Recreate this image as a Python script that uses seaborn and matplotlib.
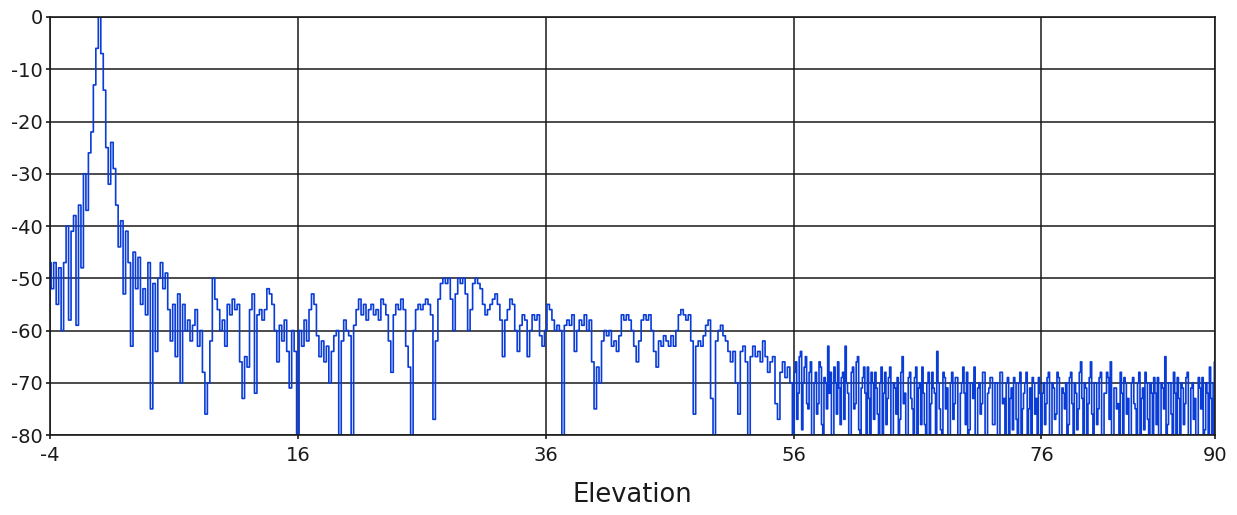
import numpy as np
import pandas as pd
import seaborn as sns
import matplotlib.pyplot as plt

#
# DATA
#

# -4 .. 55.8, 0.2 deg step
seg_a = [-47, -52, -47, -55, -48, -60, -47, -40, -58, -41,
         -38, -59, -36, -48, -30, -37, -26, -22, -13, -6,
         0, -7, -14, -25, -32, -24, -29, -36, -44, -39,
         -53, -41, -47, -63, -45, -52, -46, -55, -52, -57,
         -47, -75, -51, -64, -50, -47, -52, -49, -56, -62,
         -55, -65, -53, -70, -55, -60, -58, -62, -59, -56,
         -63, -60, -68, -76, -70, -62, -50, -54, -56, -60,
         -58, -63, -55, -57, -54, -56, -55, -66, -73, -65,
         -67, -56, -53, -72, -57, -56, -58, -56, -52, -53,
         -55, -60, -66, -59, -62, -58, -64, -71, -60, -64]

seg_b = [-80, -60, -63, -58, -62, -56, -53, -55, -61, -65,
         -62, -66, -63, -70, -64, -61, -60, -80, -62, -58,
         -60, -61, -80, -59, -56, -54, -57, -55, -58, -56,
         -55, -57, -56, -58, -54, -55, -57, -62, -68, -57,
         -55, -56, -54, -56, -63, -67, -80, -60, -56, -55,
         -56, -55, -54, -55, -57, -77, -62, -54, -51, -50,
         -51, -50, -54, -60, -53, -50, -51, -50, -53, -60,
         -56, -51, -50, -51, -52, -55, -57, -56, -55, -54,
         -53, -55, -58, -65, -58, -56, -54, -55, -60, -64,
         -59, -57, -58, -65, -60, -57, -58, -57, -61, -63]

seg_c = [-60, -55, -56, -58, -60, -59, -60, -80, -59, -58,
         -59, -57, -64, -60, -58, -59, -57, -60, -58, -66,
         -75, -67, -70, -62, -60, -61, -60, -63, -62, -64,
         -61, -57, -58, -57, -58, -60, -63, -66, -62, -58,
         -57, -58, -57, -60, -64, -67, -62, -63, -61, -62,
         -63, -61, -63, -60, -57, -56, -57, -58, -57, -62,
         -76, -63, -62, -63, -61, -59, -58, -73, -80, -62,
         -60, -59, -61, -62, -64, -66, -64, -70, -76, -64,
         -63, -66, -80, -65, -63, -65, -64, -66, -62, -65,
         -68, -66, -65, -74, -77, -68, -66, -69, -67, -70]

# 56 .. 90, 0.1 deg step (noise floor)
seg_d = [-80, -68, -66, -77, -72, -65, -64, -79, -70, -67, -65, -74, -75, -68, -66, -80, -80, -70, -68, -76,
         -74, -66, -67, -78, -80, -69, -70, -75, -63, -72, -68, -80, -80, -67, -70, -76, -66, -71, -78, -69,
         -68, -77, -63, -70, -72, -80, -80, -68, -67, -75, -74, -66, -65, -79, -80, -71, -69, -67, -72, -80,
         -67, -73, -80, -68, -70, -77, -68, -71, -76, -80, -70, -67, -80, -72, -68, -78, -73, -69, -67, -80,
         -80, -70, -71, -76, -69, -80, -77, -68, -65, -74, -72, -80, -80, -69, -68, -73, -75, -80, -69, -67,
         -80, -71, -70, -78, -67, -72, -78, -80, -70, -68, -80, -74, -68, -71, -72, -80, -64, -70, -75, -79,
         -80, -68, -69, -75, -71, -80, -80, -70, -68, -77, -74, -69, -69, -80, -80, -72, -70, -67, -72, -78,
         -68, -80, -79, -70, -70, -73, -67, -80, -80, -71, -70, -76, -74, -68, -68, -80, -80, -72, -71, -69,
         -69, -78, -78, -70, -70, -80, -80, -68, -68, -74, -73, -80, -70, -69, -80, -73, -71, -79, -69, -70,
         -77, -80, -70, -68, -80, -75, -72, -70, -68, -80, -75, -71, -80, -69, -70, -76, -73, -80, -69, -72]

seg_e = [-80, -72, -70, -78, -74, -69, -68, -80, -80, -70, -71, -77, -76, -68, -69, -80, -80, -71, -72, -75,
         -70, -80, -78, -69, -68, -74, -80, -70, -72, -79, -75, -68, -66, -73, -80, -70, -71, -80, -74, -69,
         -66, -76, -80, -70, -70, -78, -75, -69, -68, -80, -80, -72, -72, -68, -69, -77, -66, -80, -80, -71,
         -71, -75, -74, -80, -68, -72, -80, -69, -70, -76, -73, -80, -80, -70, -69, -74, -75, -80, -70, -68,
         -80, -73, -71, -79, -68, -70, -77, -80, -70, -72, -80, -69, -72, -78, -69, -80, -80, -70, -71, -75,
         -65, -80, -78, -70, -70, -76, -80, -68, -72, -80, -69, -73, -80, -70, -71, -78, -74, -69, -68, -80,
         -80, -71, -70, -77, -73, -80, -80, -69, -71, -75, -69, -80, -79, -70, -72, -80, -67, -73, -80, -70,
         -66]

segments = [seg_a, seg_b, seg_c, seg_d, seg_e]
seg_starts = [-4, 16, 36, 56, 76]
seg_steps = [0.2, 0.2, 0.2, 0.1, 0.1]
x_ticks = [-4, 16, 36, 56, 76, 90]
y_ticks = [0, -10, -20, -30, -40, -50, -60, -70, -80]


#
# PLOT
#

def build_frame():
    parts = []
    for start, step, vals in zip(seg_starts, seg_steps, segments):
        xs = start + step * np.arange(len(vals))
        parts.append(pd.DataFrame({"elev": xs, "level": vals}))
    return pd.concat(parts, ignore_index=True)


if __name__ == "__main__":

    sns.set_style("white")
    plt.rcParams["font.family"] = ["DejaVu Sans"]
    plt.rcParams["axes.unicode_minus"] = False

    df = build_frame()

    f = plt.figure(figsize=(12.37, 5.15), dpi=100)
    ax = f.add_axes([0.0404, 0.1553, 0.9418, 0.8117])

    sns.lineplot(x="elev", y="level", data=df, ax=ax, color="#0a3cd8",
                 linewidth=1.2, drawstyle="steps-mid", estimator=None)

    ax.set_xlim(-4, 90)
    ax.set_ylim(-80, 0)
    ax.set_xticks(x_ticks)
    ax.set_yticks(y_ticks)
    ax.set_xlabel("Elevation", fontsize=18.5, color="#1a1a1a", labelpad=12)
    ax.set_ylabel("")
    ax.tick_params(labelsize=14, length=3, width=1.2, colors="#1a1a1a",
                   left=True, bottom=True)
    ax.tick_params(axis="x", pad=5)
    ax.tick_params(axis="y", pad=2)
    ax.grid(True, color="#1a1a1a", linewidth=1.1)
    for s in ax.spines.values():
        s.set_color("#1a1a1a")
        s.set_linewidth(1.2)

    f.savefig("out.png", dpi=100)
